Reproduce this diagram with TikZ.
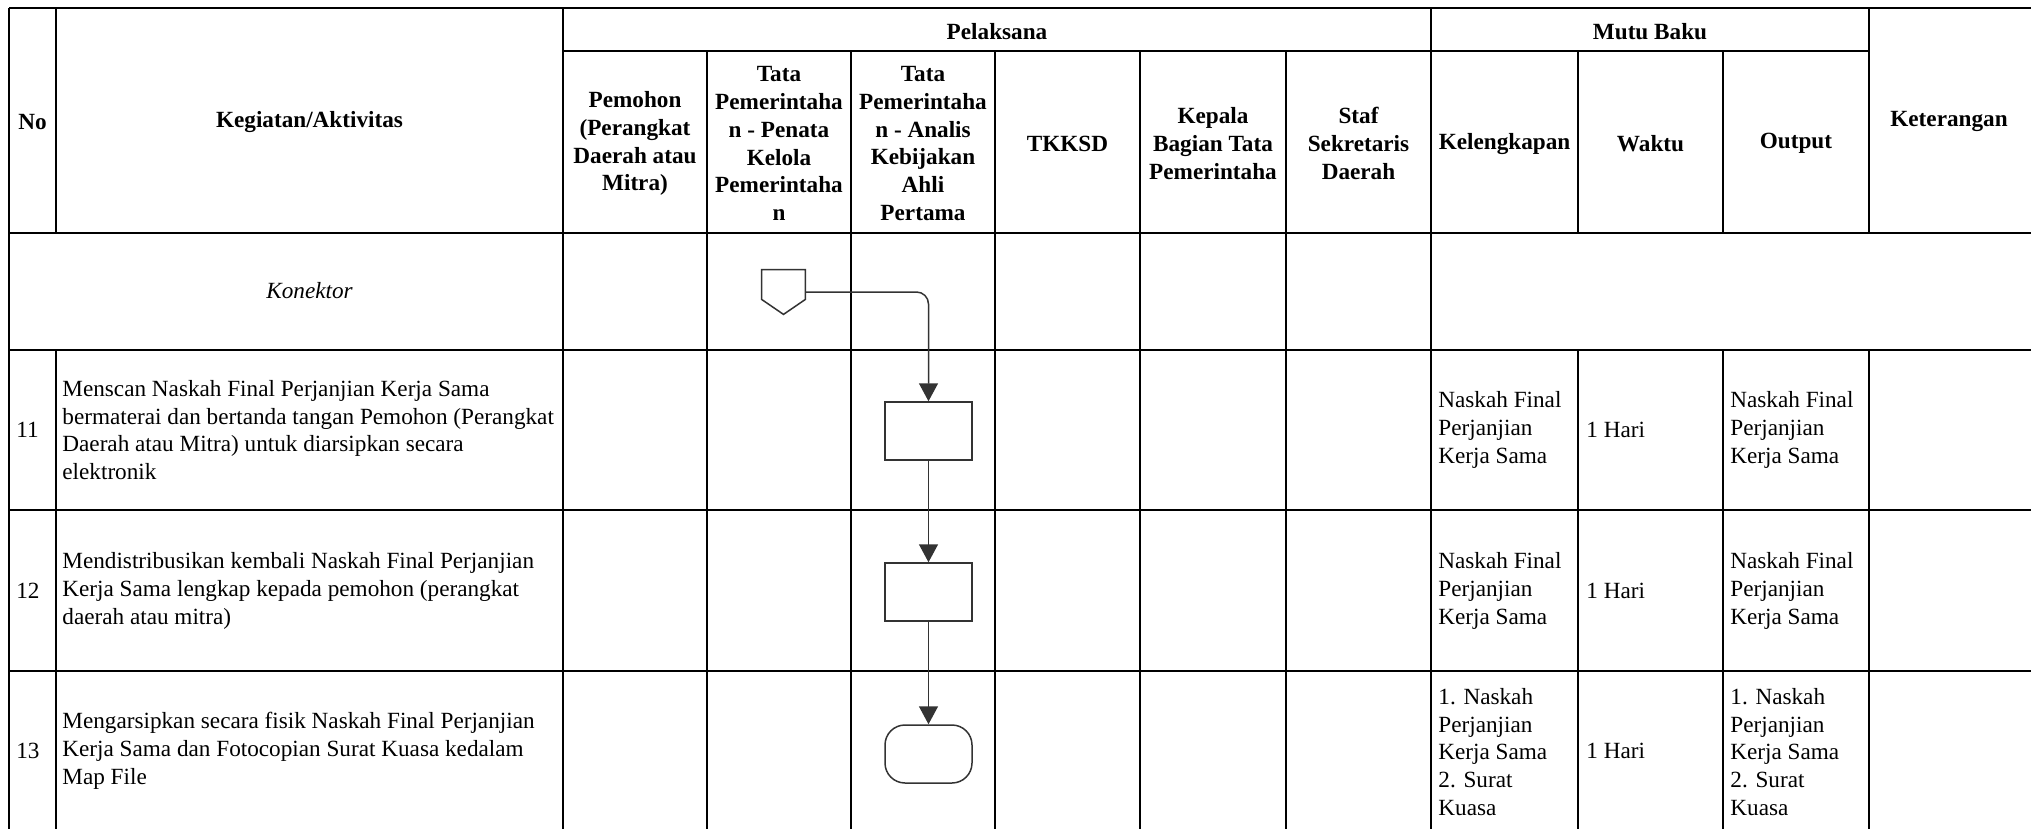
\documentclass[tikz,border=0pt]{standalone}
\usepackage{fontspec}
\setmainfont{Liberation Serif}
\usetikzlibrary{arrows.meta, positioning, calc}
\definecolor{flowgray}{RGB}{51, 51, 51}

\begin{document}
\begin{tikzpicture}[x=0.5pt, y=-0.5pt,
  tableline/.style={line width=0.9pt, black},
  headtext/.style={font=\fontsize{11.6pt}{13.9pt}\selectfont\bfseries, align=center, inner sep=0pt, yshift=-0.8pt},
  celltext/.style={font=\fontsize{11.6pt}{13.9pt}\selectfont, align=left, inner sep=0pt, anchor=west},
  flowline/.style={draw=flowgray, line width=0.75pt},
  procbox/.style={flowline, rectangle, fill=white, minimum width=43.5pt, minimum height=29pt, inner sep=0pt},
  endbox/.style={procbox, rounded corners=10pt},
  arrowline/.style={flowline, -{Triangle[width=9.5pt, length=9pt]}}
]
  \useasboundingbox[fill=white] (0,0) rectangle (2031,829);

  \draw[tableline] (9,8) -- (2031,8);
  \draw[tableline] (563,51) -- (1869,51);
  \draw[tableline] (9,233) -- (2031,233);
  \draw[tableline] (9,350) -- (2031,350);
  \draw[tableline] (9,510) -- (2031,510);
  \draw[tableline] (9,671) -- (2031,671);
  \draw[tableline] (9,8) -- (9,829);
  \draw[tableline] (56,8) -- (56,233) (56,350) -- (56,829);
  \draw[tableline] (563,8) -- (563,829);
  \foreach \x in {707, 851, 995, 1140, 1286}
    \draw[tableline] (\x,51) -- (\x,829);
  \draw[tableline] (1431,8) -- (1431,829);
  \draw[tableline] (1578,51) -- (1578,233) (1578,350) -- (1578,829);
  \draw[tableline] (1723,51) -- (1723,233) (1723,350) -- (1723,829);
  \draw[tableline] (1869,8) -- (1869,233) (1869,350) -- (1869,829);

  \node[headtext] (no) at (32.5,120) {No};
  \node[headtext] (kegiatan) at (309.5,120) {Kegiatan/Aktivitas};
  \node[headtext] (pelaksana) at (997,29.5) {Pelaksana};
  \node[headtext] (mutubaku) at (1650,29.5) {Mutu Baku};
  \node[headtext] (keterangan) at (1949,120) {Keterangan};
  \node[headtext] (pemohon) at (635,142) {Pemohon\\(Perangkat\\Daerah atau\\Mitra)};
  \node[headtext] (penata) at (779,142) {Tata\\Pemerintaha\\n - Penata\\Kelola\\Pemerintaha\\n};
  \node[headtext] (analis) at (923,142) {Tata\\Pemerintaha\\n - Analis\\Kebijakan\\Ahli\\Pertama};
  \node[headtext] (tkksd) at (1067.5,142) {TKKSD};
  \node[headtext] (kabag) at (1213,142) {Kepala\\Bagian Tata\\Pemerintaha};
  \node[headtext] (staf) at (1358.5,142) {Staf\\Sekretaris\\Daerah};
  \node[headtext] (kelengkapan) at (1504.5,142) {Kelengkapan};
  \node[headtext] (waktu) at (1650.5,142) {Waktu};
  \node[headtext] (output) at (1796,142) {Output};

  \node[celltext, anchor=center, font=\fontsize{11.6pt}{13.9pt}\selectfont\itshape] (konektorlabel) at (309.5,291) {Konektor};

  \node[celltext] (no11) at (16,430) {11};
  \node[celltext] (keg11) at (62,430) {Menscan Naskah Final Perjanjian Kerja Sama\\bermaterai dan bertanda tangan Pemohon (Perangkat\\Daerah atau Mitra) untuk diarsipkan secara\\elektronik};
  \node[celltext] (leng11) at (1438,430) {Naskah Final\\Perjanjian\\Kerja Sama};
  \node[celltext] (waktu11) at (1586,430) {1 Hari};
  \node[celltext] (out11) at (1730,430) {Naskah Final\\Perjanjian\\Kerja Sama};

  \node[celltext] (no12) at (16,591) {12};
  \node[celltext] (keg12) at (62,591) {Mendistribusikan kembali Naskah Final Perjanjian\\Kerja Sama lengkap kepada pemohon (perangkat\\daerah atau mitra)};
  \node[celltext] (leng12) at (1438,591) {Naskah Final\\Perjanjian\\Kerja Sama};
  \node[celltext] (waktu12) at (1586,591) {1 Hari};
  \node[celltext] (out12) at (1730,591) {Naskah Final\\Perjanjian\\Kerja Sama};

  \node[celltext] (no13) at (16,751) {13};
  \node[celltext] (keg13) at (62,751) {Mengarsipkan secara fisik Naskah Final Perjanjian\\Kerja Sama dan Fotocopian Surat Kuasa kedalam\\Map File};
  \node[celltext] (leng13) at (1438,752) {1. Naskah\\Perjanjian\\Kerja Sama\\2. Surat\\Kuasa};
  \node[celltext] (waktu13) at (1586,751) {1 Hari};
  \node[celltext] (out13) at (1730,752) {1. Naskah\\Perjanjian\\Kerja Sama\\2. Surat\\Kuasa};

  \node[inner sep=0pt, minimum width=21.5pt, minimum height=22pt] (konektor) at (783.5,292) {};
  \draw[flowline, fill=white] (konektor.north west) -- (konektor.north east) -- ($(konektor.south east)+(0,-15)$) -- (konektor.south) -- ($(konektor.south west)+(0,-15)$) -- cycle;
  \node[procbox] (scan) at (928.5,431) {};
  \node[procbox] (distribusi) at (928.5,592) {};
  \node[endbox] (arsip) at (928.5,754) {};

  \draw[arrowline, rounded corners=6pt] (konektor.east) -| (scan.north);
  \draw[arrowline] (scan) -- (distribusi);
  \draw[arrowline] (distribusi) -- (arsip);
\end{tikzpicture}
\end{document}
